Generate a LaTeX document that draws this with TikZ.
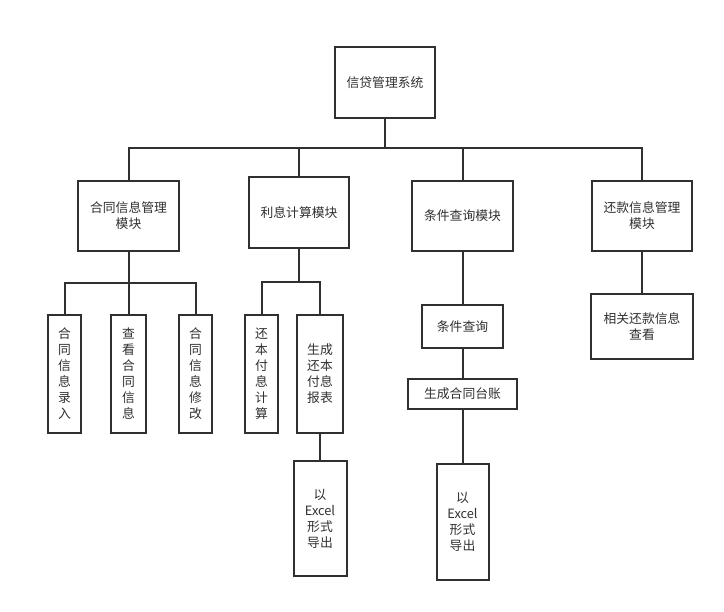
\documentclass[tikz,border=0pt]{standalone}
\usepackage{fontspec}
\setmainfont{Noto Sans CJK SC}
\definecolor{ink}{HTML}{303030}
\begin{document}
\begin{tikzpicture}[x=1pt,y=-1pt,
  box/.style={draw=ink,line width=2pt,fill=white,rectangle,inner sep=0pt,align=center,
    text=ink,font=\fontsize{12.8}{16}\selectfont},
  link/.style={draw=ink,line width=2pt}]
\useasboundingbox (0,0) rectangle (724,612);
\fill[white] (0,0) rectangle (724,612);
% top level
\node[box,minimum width=100pt,minimum height=71pt] (root) at (385,82.5) {信贷管理系统};
\node[box,minimum width=101pt,minimum height=70pt] (b1) at (128.5,216) {合同信息管理\\模块};
\node[box,minimum width=100pt,minimum height=71pt] (b2) at (299,212.5) {利息计算模块};
\node[box,minimum width=101pt,minimum height=70pt] (b3) at (462.5,216) {条件查询模块};
\node[box,minimum width=100pt,minimum height=70pt] (b4) at (642,216) {还款信息管理\\模块};
% leaves
\node[box,minimum width=33pt,minimum height=118pt] (l1) at (64.5,374) {合\\同\\信\\息\\录\\入};
\node[box,minimum width=35pt,minimum height=118pt] (l2) at (128.5,374) {查\\看\\合\\同\\信\\息};
\node[box,minimum width=33pt,minimum height=118pt] (l3) at (195.5,374) {合\\同\\信\\息\\修\\改};
\node[box,minimum width=33pt,minimum height=118pt] (l4) at (261.5,374) {还\\本\\付\\息\\计\\算};
\node[box,minimum width=46pt,minimum height=118pt] (l5) at (320,374) {生成\\还本\\付息\\报表};
\node[box,minimum width=53pt,minimum height=115pt] (e1) at (320,518.5) {以\\Excel\\形式\\导出};
\node[box,minimum width=81pt,minimum height=43pt] (q1) at (462.5,326.5) {条件查询};
\node[box,minimum width=109pt,minimum height=30pt] (q2) at (462.5,394) {生成合同台账};
\node[box,minimum width=52pt,minimum height=116pt] (e2) at (462.5,522) {以\\Excel\\形式\\导出};
\node[box,minimum width=102pt,minimum height=65pt] (r1) at (642,326.5) {相关还款信息\\查看};
% buses
\coordinate (bus) at (0,148);
\coordinate (sub1) at (0,283);
\coordinate (sub2) at (0,282);
\draw[link] (root.south) -- (root.south|-bus);
\draw[link] (b1.north) -- (b1.north|-bus) -- (b4.north|-bus) -- (b4.north);
\draw[link] (b2.north) -- (b2.north|-bus);
\draw[link] (b3.north) -- (b3.north|-bus);
\draw[link] (b1.south) -- (b1.south|-sub1);
\draw[link] (l1.north) -- (l1.north|-sub1) -- (l3.north|-sub1) -- (l3.north);
\draw[link] (l2.north) -- (l2.north|-sub1);
\draw[link] (b2.south) -- (b2.south|-sub2);
\draw[link] (l4.north) -- (l4.north|-sub2) -- (l5.north|-sub2) -- (l5.north);
\draw[link] (l5.south) -- (e1.north);
\draw[link] (b3.south) -- (q1.north);
\draw[link] (q1.south) -- (q2.north);
\draw[link] (q2.south) -- (e2.north);
\draw[link] (b4.south) -- (r1.north);
\end{tikzpicture}
\end{document}
